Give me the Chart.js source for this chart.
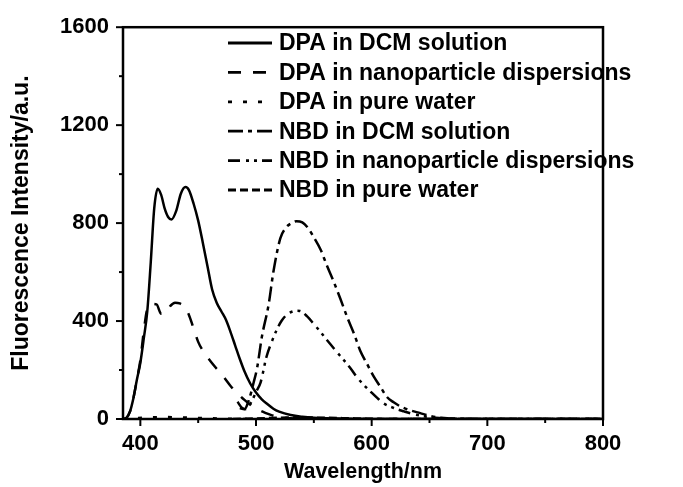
<!DOCTYPE html>
<html>
<head>
<meta charset="utf-8">
<script src="https://cdn.jsdelivr.net/npm/chart.js@4/dist/chart.umd.min.js"></script>
<style>
  html, body { margin: 0; padding: 0; background: #fff; }
  #wrap { width: 683px; height: 487px; }
</style>
</head>
<body>
<div id="wrap"><canvas id="chart" width="683" height="487"></canvas></div>
<script>
// Series data (wavelength nm / intensity a.u.)
var dpaDcmX = [385, 388, 391, 394, 397, 400, 403, 406, 409, 412, 415, 418, 421, 424, 427, 431, 435, 439, 442, 446, 450, 454, 458, 462, 466, 470, 474, 478, 482, 486, 490, 495, 500, 505, 510, 515, 520, 530, 540, 550, 570, 600, 650, 700, 800];
var dpaDcmY = [0, 5, 30, 85, 160, 230, 330, 440, 640, 860, 940, 915, 860, 825, 815, 850, 920, 947, 935, 880, 810, 720, 625, 530, 475, 440, 405, 355, 300, 245, 195, 145, 108, 80, 60, 42, 30, 16, 9, 5, 2, 0, 0, 0, 0];

var dpaNanoX = [385, 388, 391, 394, 397, 400, 403, 406, 410, 414, 418, 422, 426, 430, 434, 438, 442, 446, 450, 455, 460, 466, 472, 478, 484, 490, 496, 502, 508, 514, 520, 530, 540, 560, 800];
var dpaNanoY = [0, 5, 30, 85, 160, 240, 360, 450, 470, 468, 430, 432, 462, 475, 472, 458, 425, 370, 315, 272, 240, 205, 172, 135, 105, 78, 55, 38, 25, 15, 8, 3, 1, 0, 0];

var dpaWaterX = [385, 395, 405, 420, 440, 460, 480, 500, 800];
var dpaWaterY = [0, 3, 6, 8, 6, 3, 1, 0, 0];

var nbdDcmX = [486, 490, 494, 498, 501, 505, 511, 515, 521, 526, 530, 535, 540, 545, 550, 556, 561, 567, 573, 579, 585, 590, 596, 602, 608, 613, 619, 625, 633, 642, 650, 659, 670, 690, 800];
var nbdDcmY = [45, 40, 80, 150, 210, 334, 470, 600, 738, 782, 798, 808, 803, 780, 742, 690, 630, 563, 490, 414, 345, 280, 225, 172, 128, 91, 68, 51, 36, 24, 13, 5, 2, 0, 0];

var nbdNanoX = [484, 488, 492, 496, 500, 504, 509, 514, 518, 522, 527, 531, 535, 538, 544, 550, 557, 564, 570, 576, 582, 587, 593, 599, 605, 610, 619, 628, 636, 645, 655, 665, 680, 800];
var nbdNanoY = [70, 45, 40, 70, 110, 150, 253, 320, 365, 400, 428, 438, 442, 441, 420, 388, 348, 307, 273, 240, 205, 172, 140, 112, 85, 65, 45, 31, 20, 11, 5, 2, 0, 0];

var nbdWaterX = [480, 500, 520, 540, 560, 580, 600, 630, 800];
var nbdWaterY = [0, 2, 5, 6, 5, 3, 1, 0, 0];

var seriesLabels = ['DPA in DCM solution', 'DPA in nanoparticle dispersions', 'DPA in pure water',
                    'NBD in DCM solution', 'NBD in nanoparticle dispersions', 'NBD in pure water'];

// Axes
var xMajorTicks = [400, 500, 600, 700, 800];
var xMinorTicks = [450, 550, 650, 750];
var yMajorTicks = [0, 400, 800, 1200, 1600];
var yMinorTicks = [200, 600, 1000, 1400];

var FONT = '"Liberation Sans", Arial, Helvetica, sans-serif';

function pts(xs, ys) {
  return xs.map(function(x, i) { return { x: x, y: ys[i] }; });
}

var dashes = [[], [13, 12], [4, 11], [15, 5, 4, 5], [12, 6, 3, 5, 3, 5], [8, 4]];
var seriesData = [
  pts(dpaDcmX, dpaDcmY), pts(dpaNanoX, dpaNanoY), pts(dpaWaterX, dpaWaterY),
  pts(nbdDcmX, nbdDcmY), pts(nbdNanoX, nbdNanoY), pts(nbdWaterX, nbdWaterY)
];

var datasets = seriesData.map(function(d, i) {
  return {
    label: seriesLabels[i],
    data: d,
    borderColor: '#000',
    borderWidth: 2.5,
    borderDash: dashes[i],
    pointRadius: 0,
    fill: false,
    cubicInterpolationMode: 'monotone'
  };
});

// frame, minor/major ticks and the inset legend
var frameAndLegend = {
  id: 'frameAndLegend',
  afterDatasetsDraw: function(chart) {
    var ctx = chart.ctx, a = chart.chartArea;
    var x = chart.scales.x, y = chart.scales.y;
    ctx.save();
    ctx.strokeStyle = '#000';
    ctx.setLineDash([]);
    ctx.lineWidth = 2.5;
    ctx.strokeRect(a.left, a.top, a.right - a.left, a.bottom - a.top);

    ctx.lineWidth = 2;
    function seg(x1, y1, x2, y2) { ctx.beginPath(); ctx.moveTo(x1, y1); ctx.lineTo(x2, y2); ctx.stroke(); }
    xMajorTicks.forEach(function(v) { var p = x.getPixelForValue(v); seg(p, a.bottom, p, a.bottom + 7); });
    xMinorTicks.forEach(function(v) { var p = x.getPixelForValue(v); seg(p, a.bottom, p, a.bottom + 4); });
    yMajorTicks.forEach(function(v) { var p = y.getPixelForValue(v); seg(a.left, p, a.left - 7, p); });
    yMinorTicks.forEach(function(v) { var p = y.getPixelForValue(v); seg(a.left, p, a.left - 4, p); });

    // legend
    ctx.font = 'bold 23px ' + FONT;
    ctx.fillStyle = '#000';
    ctx.textBaseline = 'middle';
    chart.data.datasets.forEach(function(ds, i) {
      var ly = 43 + i * 29.4;
      ctx.lineWidth = 2.8;
      ctx.setLineDash(ds.borderDash || []);
      seg(228, ly, 272, ly);
      ctx.setLineDash([]);
      ctx.fillText(ds.label, 279, ly + 1);
    });
    ctx.restore();
  }
};

new Chart(document.getElementById('chart'), {
  type: 'line',
  data: { datasets: datasets },
  options: {
    responsive: false,
    animation: false,
    devicePixelRatio: 1,
    layout: { padding: { left: 0, right: 80, top: 23, bottom: 0 } },
    plugins: { legend: { display: false }, tooltip: { enabled: false } },
    scales: {
      x: {
        type: 'linear',
        min: 385, max: 800,
        afterBuildTicks: function(s) { s.ticks = xMajorTicks.map(function(v) { return { value: v }; }); },
        afterFit: function(s) { s.height = 68; },
        grid: { display: false, drawTicks: false },
        border: { display: false },
        ticks: { padding: 12, color: '#000', font: { family: FONT, size: 22, weight: 'bold' }, maxRotation: 0,
                 callback: function(v) { return String(v); } },
        title: { display: true, text: 'Wavelength/nm', color: '#000', padding: { top: 0, bottom: 2 },
                 font: { family: FONT, size: 21.5, weight: 'bold' } }
      },
      y: {
        min: 0, max: 1600,
        afterBuildTicks: function(s) { s.ticks = yMajorTicks.map(function(v) { return { value: v }; }); },
        afterFit: function(s) { s.width = 123; },
        grid: { display: false, drawTicks: false },
        border: { display: false },
        ticks: { padding: 14, color: '#000', font: { family: FONT, size: 22, weight: 'bold' },
                 callback: function(v) { return String(v); } },
        title: { display: true, text: 'Fluorescence Intensity/a.u.', color: '#000', padding: { top: 8, bottom: 0 },
                 font: { family: FONT, size: 23, weight: 'bold' } }
      }
    }
  },
  plugins: [frameAndLegend]
});
</script>
</body>
</html>
